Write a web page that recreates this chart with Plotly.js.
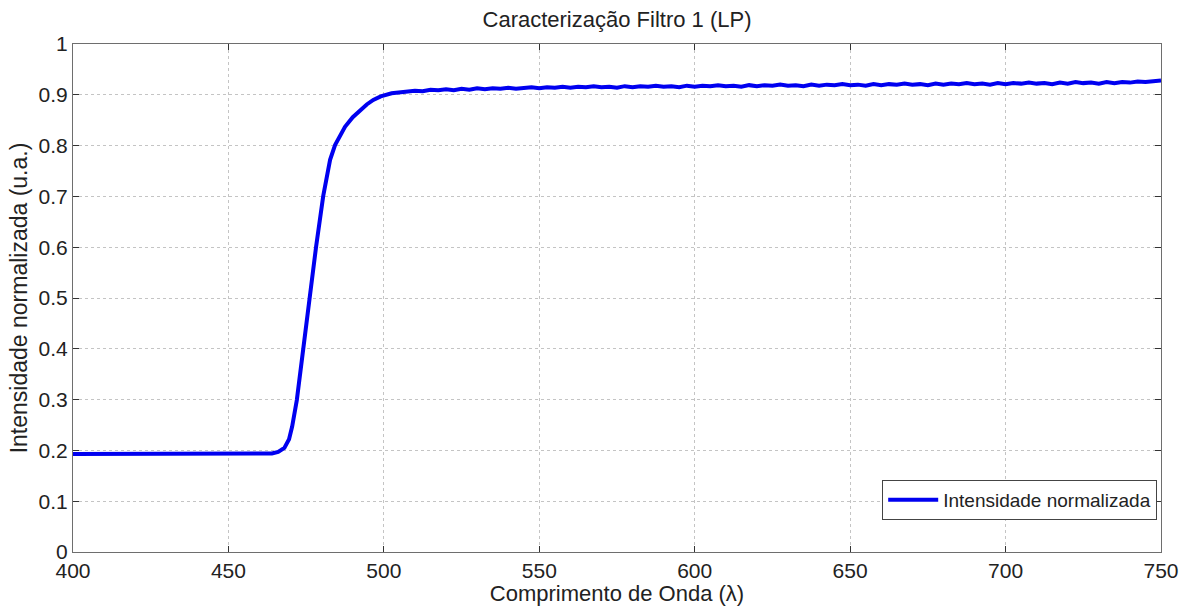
<!DOCTYPE html>
<html>
<head>
<meta charset="utf-8">
<script src="https://cdn.plot.ly/plotly-3.0.1.min.js"></script>
<style>html,body{margin:0;padding:0;background:#fff;}#chart{width:1190px;height:606px;}</style>
</head>
<body>
<div id="chart"></div>
<script>
const wavelength = [400, 410, 420, 430, 440, 450, 460, 464, 466, 468, 469.5, 470.5, 472, 474, 476, 478.2, 480.5, 482.7, 484.3, 486, 487.5, 490, 492.3, 494.5, 496.6, 499,
  502.5, 505, 507.5, 510, 512.5, 515, 517.5, 520, 522.5, 525, 527.5, 530, 532.5, 535, 537.5, 540, 542.5, 545, 547.5, 550,
  552.5, 555, 557.5, 560, 562.5, 565, 567.5, 570, 572.5, 575, 577.5, 580, 582.5, 585, 587.5, 590, 592.5, 595, 597.5, 600,
  602.5, 605, 607.5, 610, 612.5, 615, 617.5, 620, 622.5, 625, 627.5, 630, 632.5, 635, 637.5, 640, 642.5, 645, 647.5, 650,
  652.5, 655, 657.5, 660, 662.5, 665, 667.5, 670, 672.5, 675, 677.5, 680, 682.5, 685, 687.5, 690, 692.5, 695, 697.5, 700,
  702.5, 705, 707.5, 710, 712.5, 715, 717.5, 720, 722.5, 725, 727.5, 730, 732.5, 735, 737.5, 740, 742.5, 745, 747.5, 750];
const intensity = [0.193, 0.193, 0.193, 0.193, 0.193, 0.193, 0.193, 0.194, 0.197, 0.205, 0.222, 0.247, 0.299, 0.398, 0.496, 0.601, 0.701, 0.772, 0.801, 0.822, 0.837, 0.856, 0.870, 0.881, 0.890, 0.897,
  0.903, 0.905, 0.906, 0.908, 0.907, 0.910, 0.909, 0.911, 0.909, 0.912, 0.910, 0.913, 0.911, 0.913, 0.912, 0.914, 0.912, 0.913, 0.915, 0.913,
  0.915, 0.914, 0.916, 0.914, 0.916, 0.915, 0.917, 0.915, 0.916, 0.914, 0.917, 0.915, 0.917, 0.916, 0.918, 0.916, 0.917, 0.915, 0.918, 0.916,
  0.918, 0.917, 0.919, 0.917, 0.918, 0.916, 0.919, 0.917, 0.919, 0.918, 0.920, 0.918, 0.919, 0.917, 0.920, 0.918, 0.920, 0.919, 0.921, 0.919,
  0.920, 0.918, 0.921, 0.919, 0.921, 0.920, 0.922, 0.920, 0.921, 0.919, 0.922, 0.920, 0.922, 0.921, 0.923, 0.921, 0.922, 0.920, 0.923, 0.921,
  0.923, 0.922, 0.924, 0.922, 0.923, 0.921, 0.924, 0.922, 0.925, 0.923, 0.924, 0.922, 0.925, 0.923, 0.925, 0.924, 0.926, 0.925, 0.926, 0.928];
const seriesName = 'Intensidade normalizada';
const chartTitle = 'Caracterização Filtro 1 (LP)';
const xTitle = 'Comprimento de Onda (λ)';
const yTitle = 'Intensidade normalizada (u.a.)';

const FONT = 'Arial, "Liberation Sans", sans-serif';
const axisCommon = {
  showline: true, mirror: 'ticks', linecolor: '#6e6e6e', linewidth: 1,
  ticks: 'inside', ticklen: 6, tickcolor: '#333', tickwidth: 1,
  showgrid: true, gridcolor: '#c4c4c4', griddash: 'dot', gridwidth: 1,
  zeroline: false, tickfont: {family: FONT, size: 21, color: '#222'},
  automargin: false
};

Plotly.newPlot('chart', [{
  x: wavelength, y: intensity, type: 'scatter', mode: 'lines', name: seriesName,
  line: {color: '#0000f0', width: 4}
}], {
  width: 1190, height: 606,
  margin: {l: 73, r: 29, t: 44, b: 54},
  paper_bgcolor: '#fff', plot_bgcolor: '#fff',
  font: {family: FONT, color: '#222'},
  title: {text: chartTitle, font: {family: FONT, size: 22, color: '#222'}, x: 0.5185, xanchor: 'center', y: 0.968, yanchor: 'middle', yref: 'container'},
  xaxis: Object.assign({}, axisCommon, {range: [400, 750], dtick: 50, tick0: 400,
    title: {text: xTitle, font: {family: FONT, size: 22, color: '#222'}, standoff: 0}}),
  yaxis: Object.assign({}, axisCommon, {range: [0, 1], dtick: 0.1, tick0: 0,
    title: {text: yTitle, font: {family: FONT, size: 23, color: '#222'}, standoff: 4}}),
  showlegend: true,
  legend: {x: 0.9965, xanchor: 'right', y: 0.063, yanchor: 'bottom', bgcolor: '#fff', bordercolor: '#444', borderwidth: 1,
    font: {family: FONT, size: 19, color: '#222'}, itemwidth: 50}
}, {displayModeBar: false, staticPlot: true});
</script>
</body>
</html>
